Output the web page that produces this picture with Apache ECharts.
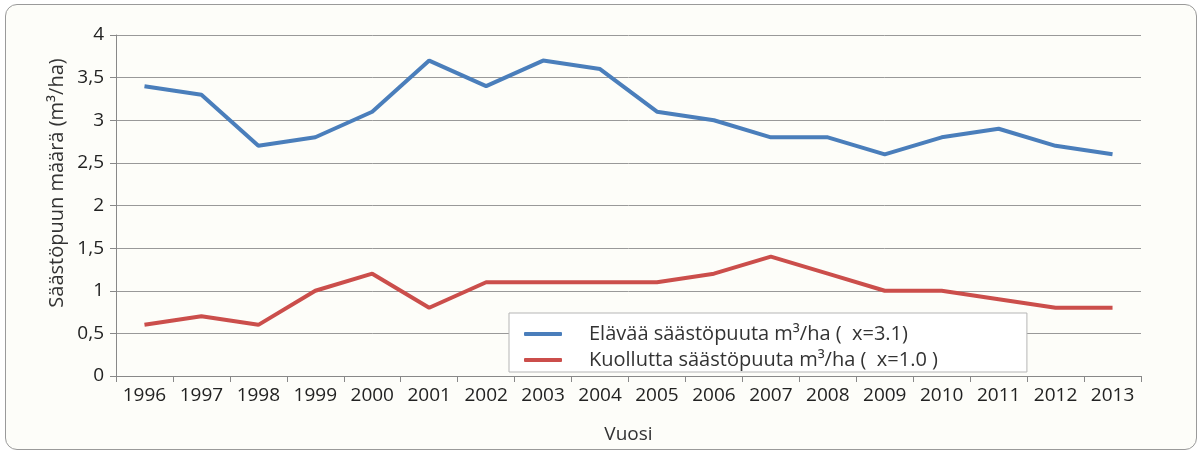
<!DOCTYPE html>
<html>
<head>
<meta charset="utf-8">
<script src="https://cdn.jsdelivr.net/npm/echarts@6/dist/echarts.min.js"></script>
<style>
  html, body { margin: 0; padding: 0; background: #fff; }
  #wrap { position: absolute; left: 5px; top: 4px; width: 1190px; height: 444px;
          border: 1px solid #9a9a9a; border-radius: 12px; background: #fdfdf9; overflow: hidden; }
  #chart { width: 1190px; height: 444px; }
</style>
</head>
<body>
<div id="wrap"><div id="chart"></div></div>
<script>
var years = ['1996', '1997', '1998', '1999', '2000', '2001', '2002', '2003', '2004',
             '2005', '2006', '2007', '2008', '2009', '2010', '2011', '2012', '2013'];
var elava = [3.4, 3.3, 2.7, 2.8, 3.1, 3.7, 3.4, 3.7, 3.6, 3.1, 3.0, 2.8, 2.8, 2.6, 2.8, 2.9, 2.7, 2.6];
var kuollut = [0.6, 0.7, 0.6, 1.0, 1.2, 0.8, 1.1, 1.1, 1.1, 1.1, 1.2, 1.4, 1.2, 1.0, 1.0, 0.9, 0.8, 0.8];
var seriesNames = ['Elävää säästöpuuta m³/ha (  x=3.1)', 'Kuollutta säästöpuuta m³/ha (  x=1.0 )'];
var seriesColors = ['#4a7ebb', '#cb4e4b'];
var yTitle = 'Säästöpuun määrä (m³/ha)';

var font = '"Open Sans", sans-serif';
var myChart = echarts.init(document.getElementById('chart'));

var option = {
    backgroundColor: 'transparent',
    textStyle: { fontFamily: font },
    grid: { left: 110, right: 55, top: 30, bottom: 71 },
    // y-akselin otsikko, hieman akselin keskikohdan yläpuolella kuten alkuperäisessä
    graphic: [{
        type: 'text',
        x: 51,
        y: 178,
        rotation: Math.PI / 2,
        style: {
            text: yTitle,
            fontFamily: font,
            fontSize: 20,
            fill: '#333',
            align: 'center',
            verticalAlign: 'middle'
        }
    }],
    legend: {
        orient: 'vertical',
        left: 503,
        top: 308,
        padding: [9, 89, 0, 15],
        itemGap: 2,
        itemWidth: 38,
        itemHeight: 4,
        backgroundColor: '#ffffff',
        borderColor: '#b5b5b5',
        borderWidth: 1,
        icon: 'roundRect',
        textStyle: { fontFamily: font, fontSize: 20, lineHeight: 24, color: '#333', padding: [0, 0, 0, 22] },
        data: seriesNames
    },
    xAxis: {
        type: 'category',
        data: years,
        name: 'Vuosi',
        nameLocation: 'middle',
        nameGap: 49,
        nameTextStyle: { fontFamily: font, fontSize: 19, color: '#333' },
        axisLine: { lineStyle: { color: '#888', width: 1 } },
        axisTick: { show: true, length: 6, lineStyle: { color: '#888' } },
        axisLabel: { fontFamily: font, fontSize: 19, color: '#222', margin: 10 },
        splitLine: { show: false }
    },
    yAxis: {
        type: 'value',
        min: 0,
        max: 4,
        interval: 0.5,
        axisLine: { show: true, lineStyle: { color: '#888', width: 1 } },
        axisTick: { show: true, length: 6, lineStyle: { color: '#888' } },
        axisLabel: {
            fontFamily: font, fontSize: 19, color: '#222', margin: 12,
            formatter: function (value) { return String(value).replace('.', ','); }
        },
        splitLine: { show: true, lineStyle: { color: '#999', width: 1 } }
    },
    series: [
        {
            name: seriesNames[0],
            type: 'line',
            data: elava,
            symbol: 'none',
            lineStyle: { width: 4, color: seriesColors[0] },
            itemStyle: { color: seriesColors[0] }
        },
        {
            name: seriesNames[1],
            type: 'line',
            data: kuollut,
            symbol: 'none',
            lineStyle: { width: 4, color: seriesColors[1] },
            itemStyle: { color: seriesColors[1] }
        }
    ]
};

myChart.setOption(option);
</script>
</body>
</html>
